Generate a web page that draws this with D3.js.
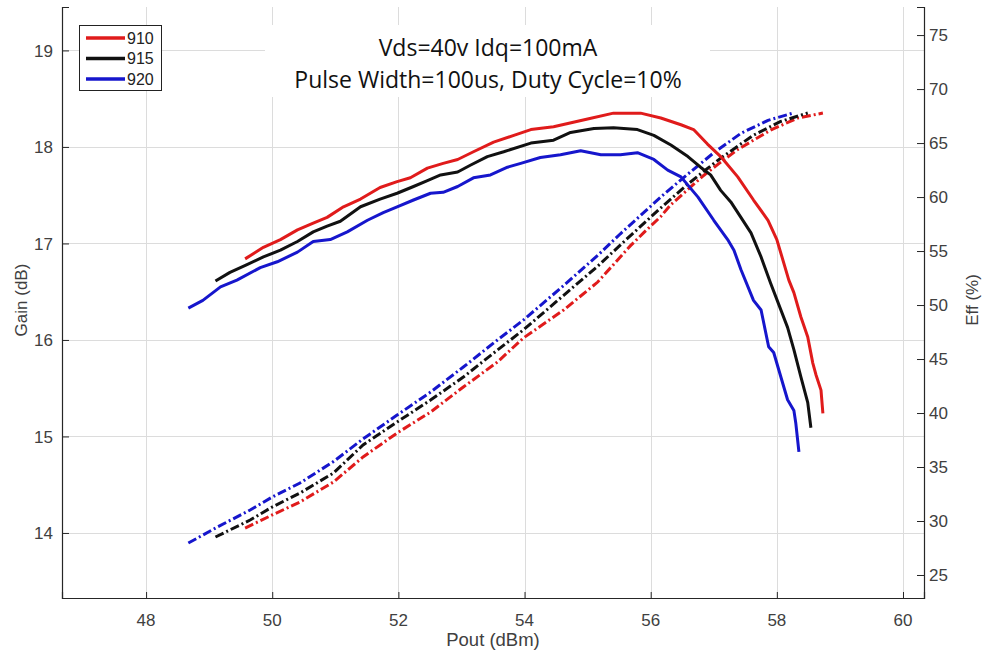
<!DOCTYPE html>
<html>
<head>
<meta charset="utf-8">
<script src="https://cdn.jsdelivr.net/npm/d3@7"></script>
<style>
  body { margin: 0; background: #fff; }
  svg { display: block; font-family: "Liberation Sans", Arial, sans-serif; }
</style>
</head>
<body>
<div id="chart"></div>
<script>
// tick values
var xTicks = [48, 50, 52, 54, 56, 58, 60];
var gainTicks = [14, 15, 16, 17, 18, 19];
var effTicks = [25, 30, 35, 40, 45, 50, 55, 60, 65, 70, 75];

var seriesNames = ["910", "915", "920"];
var seriesColors = ["#e01b1b", "#111111", "#1616cc"];

// gain vs pout  [Pout dBm, Gain dB]
var gain910 = [[49.57,16.84],[49.86,16.96],[50.13,17.04],[50.40,17.14],[50.65,17.21],[50.87,17.27],[51.13,17.38],[51.40,17.46],[51.71,17.58],[51.98,17.64],[52.19,17.68],[52.46,17.78],[52.71,17.83],[52.94,17.87],[53.19,17.95],[53.51,18.05],[53.83,18.12],[54.10,18.18],[54.46,18.21],[55.00,18.29],[55.41,18.35],[55.84,18.35],[56.16,18.30],[56.48,18.23],[56.68,18.18],[56.90,18.03],[57.11,17.90],[57.38,17.69],[57.63,17.45],[57.86,17.24],[58.00,17.04],[58.19,16.62],[58.27,16.49],[58.38,16.24],[58.49,16.03],[58.57,15.76],[58.62,15.64],[58.70,15.48],[58.73,15.24]];
var gain915 = [[49.10,16.61],[49.33,16.70],[49.60,16.78],[49.86,16.86],[50.13,16.93],[50.40,17.02],[50.65,17.12],[50.87,17.18],[51.08,17.23],[51.40,17.38],[51.71,17.46],[51.98,17.52],[52.24,17.59],[52.46,17.65],[52.67,17.71],[52.94,17.74],[53.14,17.81],[53.41,17.90],[53.67,17.95],[54.10,18.04],[54.46,18.07],[54.73,18.15],[55.10,18.19],[55.41,18.20],[55.79,18.18],[56.05,18.12],[56.32,18.02],[56.59,17.90],[56.79,17.79],[56.95,17.71],[57.11,17.55],[57.27,17.43],[57.43,17.27],[57.59,17.11],[57.75,16.86],[57.90,16.59],[58.17,16.13],[58.27,15.90],[58.38,15.62],[58.49,15.35],[58.54,15.09]];
var gain920 = [[48.67,16.33],[48.90,16.41],[49.18,16.55],[49.44,16.62],[49.81,16.75],[50.08,16.81],[50.40,16.91],[50.65,17.02],[50.92,17.04],[51.19,17.12],[51.51,17.24],[51.76,17.32],[51.98,17.38],[52.24,17.45],[52.51,17.52],[52.71,17.53],[52.94,17.59],[53.19,17.68],[53.46,17.71],[53.73,17.79],[53.94,17.83],[54.25,17.89],[54.57,17.92],[54.89,17.96],[55.21,17.92],[55.52,17.92],[55.79,17.94],[56.05,17.87],[56.27,17.76],[56.48,17.69],[56.75,17.48],[57.00,17.24],[57.22,17.04],[57.32,16.93],[57.43,16.73],[57.63,16.41],[57.75,16.31],[57.87,15.93],[57.95,15.87],[58.17,15.38],[58.27,15.27],[58.30,15.14],[58.35,14.84]];

// efficiency vs pout  [Pout dBm, Eff %]
var eff910 = [[49.57,29.35],[50.00,30.56],[50.44,31.76],[50.97,33.61],[51.44,35.93],[51.98,38.15],[52.51,40.09],[53.03,42.41],[53.57,44.72],[53.98,46.94],[54.62,49.54],[55.16,52.13],[55.68,55.50],[55.89,56.70],[56.16,58.20],[56.32,59.30],[56.84,62.00],[57.08,63.10],[57.38,64.40],[57.90,66.20],[58.33,67.31],[58.73,67.78]];
var eff915 = [[49.10,28.52],[49.65,30.09],[50.00,31.30],[50.44,32.59],[50.97,34.44],[51.44,37.04],[51.98,39.17],[52.51,41.20],[53.03,43.33],[53.57,45.83],[53.98,47.69],[54.62,50.90],[55.16,53.60],[55.60,56.00],[56.16,59.00],[56.59,61.20],[56.89,62.60],[57.11,63.60],[57.62,65.70],[58.06,67.00],[58.49,67.78]];
var eff920 = [[48.67,27.96],[49.13,29.44],[49.65,31.02],[50.00,32.22],[50.44,33.52],[50.97,35.50],[51.44,37.60],[51.98,39.81],[52.51,41.94],[53.03,44.26],[53.57,46.76],[53.98,48.60],[54.62,51.80],[55.16,54.60],[55.52,56.60],[56.16,60.00],[56.48,61.60],[56.75,62.90],[57.00,64.10],[57.43,65.90],[57.86,67.10],[58.27,67.80]];

var gainSeries = [gain910, gain915, gain920];
var effSeries = [eff910, eff915, eff920];

var width = 983, height = 652;
// plot box (window.top is read-only, so no plain "top")
var plotL = 62, plotR = 924, plotT = 7, plotB = 598;

var svg = d3.select("#chart").append("svg")
  .attr("width", width)
  .attr("height", height);

var x = d3.scaleLinear().domain([46.667, 60.333]).range([plotL, plotR]);
var yGain = d3.scaleLinear().domain([13.326, 19.45]).range([plotB, plotT]);
var yEff = d3.scaleLinear().domain([22.87, 77.6]).range([plotB, plotT]);

// grid
var grid = svg.append("g").attr("stroke", "#dcdcdc").attr("stroke-width", 1);
grid.selectAll("line.vx").data(xTicks).enter().append("line")
  .attr("x1", function (d) { return Math.round(x(d)) + 0.5; })
  .attr("x2", function (d) { return Math.round(x(d)) + 0.5; })
  .attr("y1", plotT).attr("y2", plotB);
grid.selectAll("line.hy").data(gainTicks).enter().append("line")
  .attr("x1", plotL).attr("x2", plotR)
  .attr("y1", function (d) { return Math.round(yGain(d)) + 0.5; })
  .attr("y2", function (d) { return Math.round(yGain(d)) + 0.5; });

// white box behind the title covers the grid
svg.append("rect")
  .attr("x", 265).attr("y", 25).attr("width", 445).attr("height", 72)
  .attr("fill", "#fff");

// axes, ticks inward
var axisColor = "#262626";
var xAxis = svg.append("g").attr("transform", "translate(0," + plotB + ")")
  .call(d3.axisTop(x).tickValues(xTicks).tickSize(6).tickFormat(""));
var gAxis = svg.append("g").attr("transform", "translate(" + plotL + ",0)")
  .call(d3.axisRight(yGain).tickValues(gainTicks).tickSize(7).tickFormat(""));
var eAxis = svg.append("g").attr("transform", "translate(" + plotR + ",0)")
  .call(d3.axisLeft(yEff).tickValues(effTicks).tickSize(7).tickFormat(""));
[xAxis, gAxis, eAxis].forEach(function (a) {
  a.select(".domain").attr("stroke", axisColor).attr("stroke-width", 1.2);
  a.selectAll(".tick line").attr("stroke", axisColor);
});

// tick labels
var labelColor = "#404040";
svg.selectAll("text.xt").data(xTicks).enter().append("text")
  .attr("x", function (d) { return x(d); })
  .attr("y", 626)
  .attr("text-anchor", "middle")
  .attr("font-size", 17)
  .attr("fill", labelColor)
  .text(function (d) { return d; });
svg.selectAll("text.gt").data(gainTicks).enter().append("text")
  .attr("x", 53)
  .attr("y", function (d) { return yGain(d); })
  .attr("dy", "0.36em")
  .attr("text-anchor", "end")
  .attr("font-size", 17)
  .attr("fill", labelColor)
  .text(function (d) { return d; });
svg.selectAll("text.et").data(effTicks).enter().append("text")
  .attr("x", 929)
  .attr("y", function (d) { return yEff(d); })
  .attr("dy", "0.36em")
  .attr("font-size", 17)
  .attr("fill", labelColor)
  .text(function (d) { return d; });

// axis titles
svg.append("text")
  .attr("x", 493).attr("y", 646)
  .attr("text-anchor", "middle")
  .attr("font-size", 18.5)
  .attr("fill", labelColor)
  .text("Pout (dBm)");
svg.append("text")
  .attr("transform", "translate(27,300) rotate(-90)")
  .attr("text-anchor", "middle")
  .attr("font-size", 17)
  .attr("fill", labelColor)
  .text("Gain (dB)");
svg.append("text")
  .attr("transform", "translate(978,300) rotate(-90)")
  .attr("text-anchor", "middle")
  .attr("font-size", 17)
  .attr("fill", labelColor)
  .text("Eff (%)");

// curves
var gainLine = d3.line()
  .x(function (d) { return x(d[0]); })
  .y(function (d) { return yGain(d[1]); });
var effLine = d3.line()
  .x(function (d) { return x(d[0]); })
  .y(function (d) { return yEff(d[1]); });

effSeries.forEach(function (s, i) {
  svg.append("path")
    .datum(s)
    .attr("d", effLine)
    .attr("fill", "none")
    .attr("stroke", seriesColors[i])
    .attr("stroke-width", 3)
    .attr("stroke-dasharray", "9,3,2,3");
});
gainSeries.forEach(function (s, i) {
  svg.append("path")
    .datum(s)
    .attr("d", gainLine)
    .attr("fill", "none")
    .attr("stroke", seriesColors[i])
    .attr("stroke-width", 3)
    .attr("stroke-linejoin", "round");
});

// title
svg.selectAll("text.title")
  .data(["Vds=40v Idq=100mA", "Pulse Width=100us, Duty Cycle=10%"])
  .enter().append("text")
  .attr("x", 488)
  .attr("y", function (d, i) { return 56 + i * 32; })
  .attr("text-anchor", "middle")
  .style("font-family", "'Open Sans', sans-serif")
  .attr("font-size", 23)
  .attr("fill", "#111")
  .text(function (d) { return d; });

// legend
var legend = svg.append("g");
legend.append("rect")
  .attr("x", 79.5).attr("y", 25.5).attr("width", 82).attr("height", 65)
  .attr("fill", "#fff").attr("stroke", "#222").attr("stroke-width", 1);
seriesNames.forEach(function (name, i) {
  var ly = 38 + i * 20.5;
  legend.append("line")
    .attr("x1", 86).attr("x2", 125)
    .attr("y1", ly).attr("y2", ly)
    .attr("stroke", seriesColors[i])
    .attr("stroke-width", 3.5);
  legend.append("text")
    .attr("x", 127).attr("y", ly)
    .attr("dy", "0.36em")
    .attr("font-size", 16)
    .attr("fill", "#222")
    .text(name);
});
</script>
</body>
</html>
